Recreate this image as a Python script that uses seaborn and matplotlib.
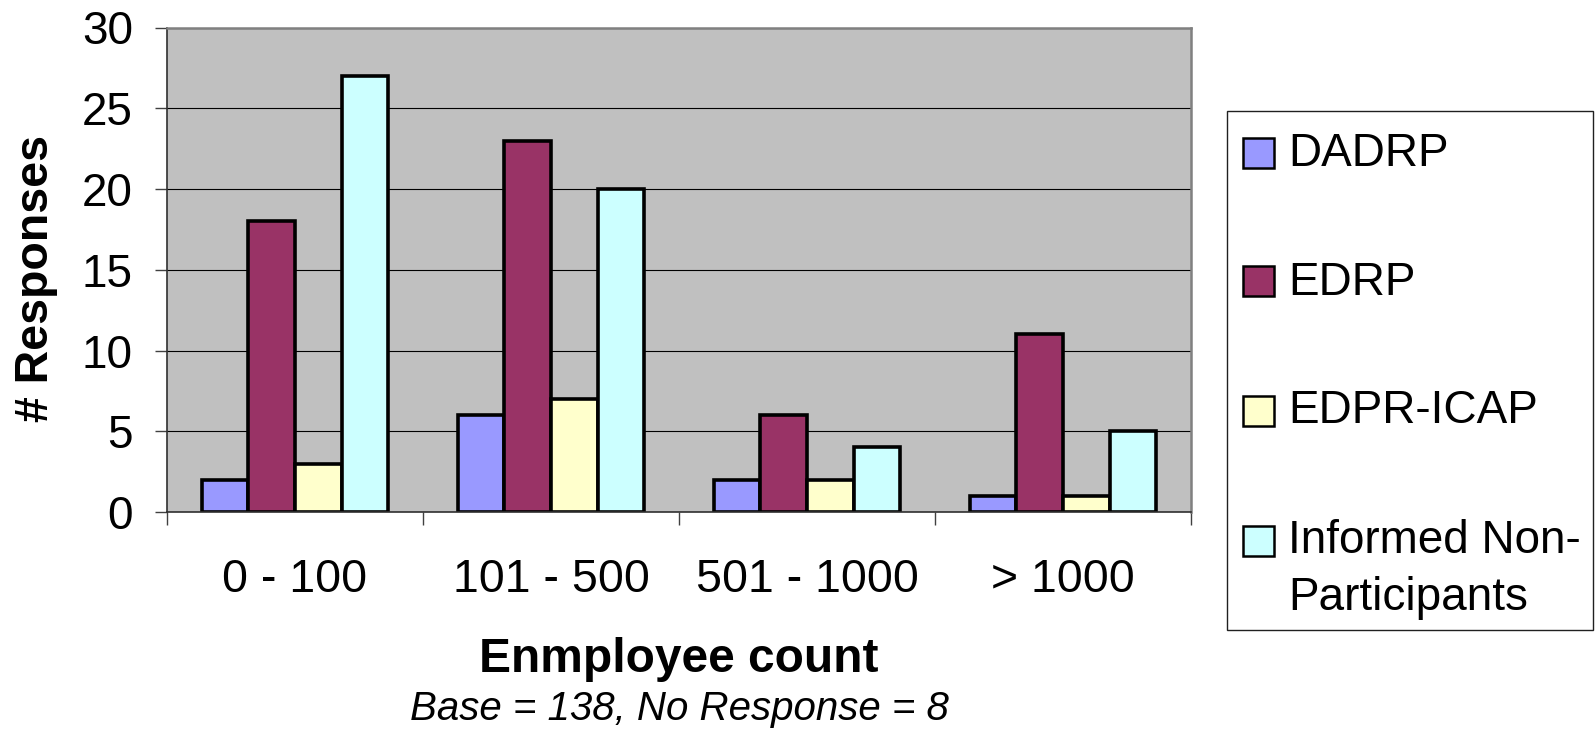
import numpy as np
import pandas as pd
import matplotlib
matplotlib.use("Agg")
import matplotlib.pyplot as plt
from matplotlib.patches import Rectangle
import seaborn as sns

# Survey responses by company size and program
employee_bins = ["0 - 100", "101 - 500", "501 - 1000", "> 1000"]
programs = ["DADRP", "EDRP", "EDPR-ICAP", "Informed Non-Participants"]
dadrp = [2, 6, 2, 1]
edrp = [18, 23, 6, 11]
edpr_icap = [3, 7, 2, 1]
informed_non = [27, 20, 4, 5]
program_colors = ["#9999FF", "#993366", "#FFFFCC", "#CCFFFF"]
legend_labels = ["DADRP", "EDRP", "EDPR-ICAP", "Informed Non-\nParticipants"]
y_ticks = [0, 5, 10, 15, 20, 25, 30]

series = [dadrp, edrp, edpr_icap, informed_non]
df = pd.DataFrame({
    "bin": [b for _ in programs for b in employee_bins],
    "program": [p for p in programs for _ in employee_bins],
    "count": [v for s in series for v in s],
})

sns.set_theme(style="white")
plt.rcParams["font.family"] = ["Liberation Sans", "DejaVu Sans"]
plt.rcParams.update({
    "text.color": "black",
    "axes.labelcolor": "black",
    "xtick.labelcolor": "black",
    "ytick.labelcolor": "black",
})

W, H = 1595, 731
fig = plt.figure(figsize=(W / 100, H / 100), dpi=100)
fig.patch.set_facecolor("white")

# plot area in pixel terms
x0, x1, y_top, y_bot = 167, 1191, 27.5, 512
ax = fig.add_axes([x0 / W, 1 - y_bot / H, (x1 - x0) / W, (y_bot - y_top) / H])

sns.barplot(
    data=df, x="bin", y="count", hue="program",
    order=employee_bins, hue_order=programs,
    palette=program_colors, saturation=1, width=4 / 5.5,
    edgecolor="black", linewidth=2.6, errorbar=None, legend=False, ax=ax,
)

ax.set_facecolor("#C0C0C0")
ax.set_xlim(-0.5, 3.5)
ax.set_ylim(0, 30)
ax.set_yticks(y_ticks)
ax.yaxis.grid(True, color="black", linewidth=0.8)
ax.set_axisbelow(True)

# axis ticks
ax.set_xticks(range(len(employee_bins)), employee_bins)
ax.set_xticks(np.arange(-0.5, len(employee_bins)), minor=True)
ax.tick_params(axis="x", which="major", length=0, pad=33, labelsize=33.5,
               bottom=True, labelcolor="black")
ax.tick_params(axis="x", which="minor", length=9.5, width=1, color="#404040",
               bottom=True, direction="out")
ax.tick_params(axis="y", length=8.6, width=1, color="#404040", pad=16,
               labelsize=33, left=True, direction="out", labelcolor="black")

for side in ("top", "right"):
    ax.spines[side].set_color("#808080")
    ax.spines[side].set_linewidth(1.8)
for side in ("left", "bottom"):
    ax.spines[side].set_color("#303030")
    ax.spines[side].set_linewidth(1.2)

# axis titles
ax.set_ylabel("# Responses", fontsize=33.5, fontweight="bold", va="center",
              color="black")
ax.yaxis.set_label_coords((36 - x0) / (x1 - x0), (y_bot - 279) / (y_bot - y_top))
ax.set_xlabel("Enmployee count", fontsize=34.5, fontweight="bold", va="center",
              color="black")
ax.xaxis.set_label_coords(0.5, (y_bot - 659) / (y_bot - y_top))
ax.text(0.5, (y_bot - 709) / (y_bot - y_top), "Base = 138, No Response = 8",
        style="italic", fontsize=29, ha="center", va="center", color="black",
        transform=ax.transAxes)

# legend box on the right
def fx(px):
    return px / W


def fy(py):
    return 1 - py / H


fig.add_artist(Rectangle((fx(1227), fy(630)), fx(1593) - fx(1227), (630 - 111) / H,
                         transform=fig.transFigure, facecolor="white",
                         edgecolor="#202020", linewidth=1.0))
square_tops = [138, 266, 396, 526]
baselines = [166, 295, 423, 553]
for color, label, top, base in zip(program_colors, legend_labels, square_tops, baselines):
    fig.add_artist(Rectangle((fx(1243), fy(top + 30)), 31 / W, 30 / H,
                             transform=fig.transFigure, facecolor=color,
                             edgecolor="black", linewidth=1.8))
    lines = label.split("\n")
    for i, line in enumerate(lines):
        fig.text(fx(1288), fy(base + i * 57), line, fontsize=33,
                 ha="left", va="baseline", color="black")

fig.savefig("out.png", dpi=100, facecolor="white")
